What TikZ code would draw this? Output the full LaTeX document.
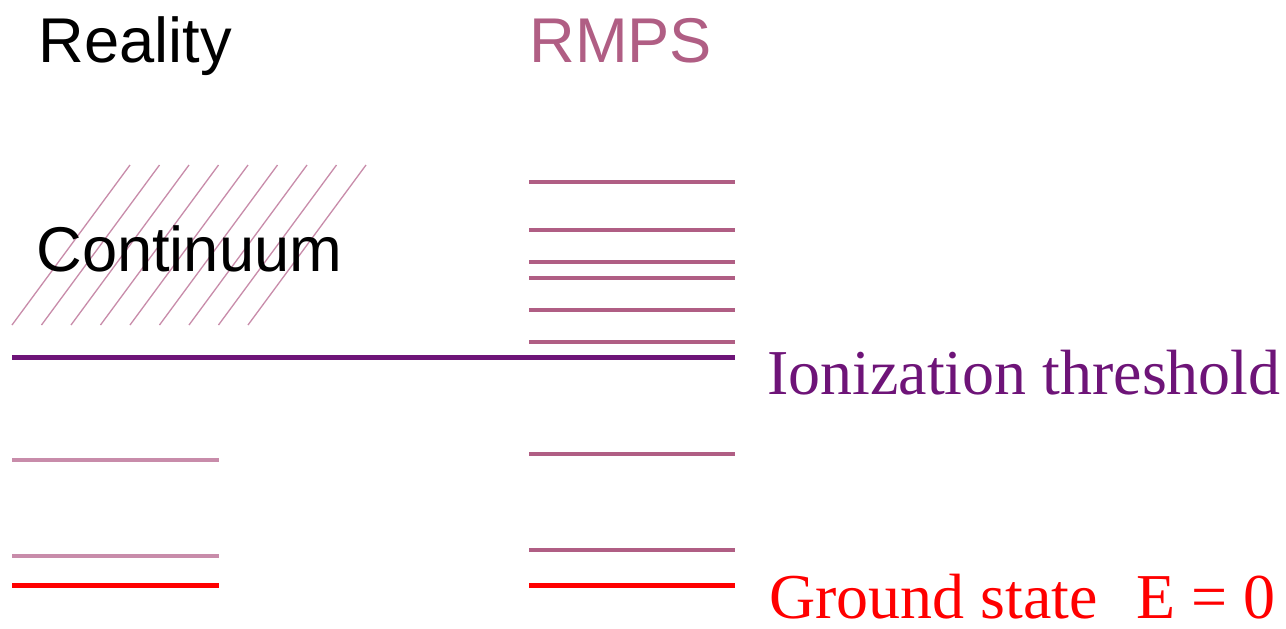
\documentclass[tikz,border=0pt]{standalone}
\usepackage{fontspec}
\setmainfont{Liberation Serif}
\setsansfont{Liberation Sans}
\definecolor{rmpscol}{RGB}{176,94,132}
\definecolor{realcol}{RGB}{200,140,170}
\definecolor{threshcol}{RGB}{110,20,120}
\begin{document}
\begin{tikzpicture}[x=0.02cm,y=-0.02cm,
    big/.style={inner sep=0pt,anchor=base west,font=\fontsize{36.4}{40}\selectfont},
    bigsf/.style={big,font=\sffamily\fontsize{36}{40}\selectfont},
    level/.style={line width=2.27pt},
    hatch/.style={realcol,line width=0.75pt}]
    \useasboundingbox (0,0) rectangle (1286,629);

    % titles
    \node[bigsf] (reality) at (38,62) {Reality};
    \node[bigsf,text=rmpscol] (rmps) at (529,62) {RMPS};

    % continuum
    \foreach \i in {0,...,8}
        \draw[hatch] (12+29.5*\i,325) -- (130+29.5*\i,165);
    \node[bigsf] (cont) at (36,271) {Continuum};

    % bound states, reality
    \draw[level,realcol] (12,460) -- (219,460);
    \draw[level,realcol] (12,556) -- (219,556);

    % pseudo states
    \foreach \y in {182,230,262,278,310,342,454,550}
        \draw[level,rmpscol] (529,\y) -- (735,\y);

    % threshold and ground state
    \draw[level,threshcol,line width=2.6pt] (12,357.7) -- (735,357.7);
    \draw[level,red,line width=2.84pt] (12,585) -- (219,585);
    \draw[level,red,line width=2.84pt] (529,585) -- (735,585);

    \node[big,text=threshcol] (ion) at (767,394) {Ionization threshold};
    \node[big,text=red] (ground) at (769,618) {Ground state\hspace{0.6em}E = 0};
\end{tikzpicture}
\end{document}
